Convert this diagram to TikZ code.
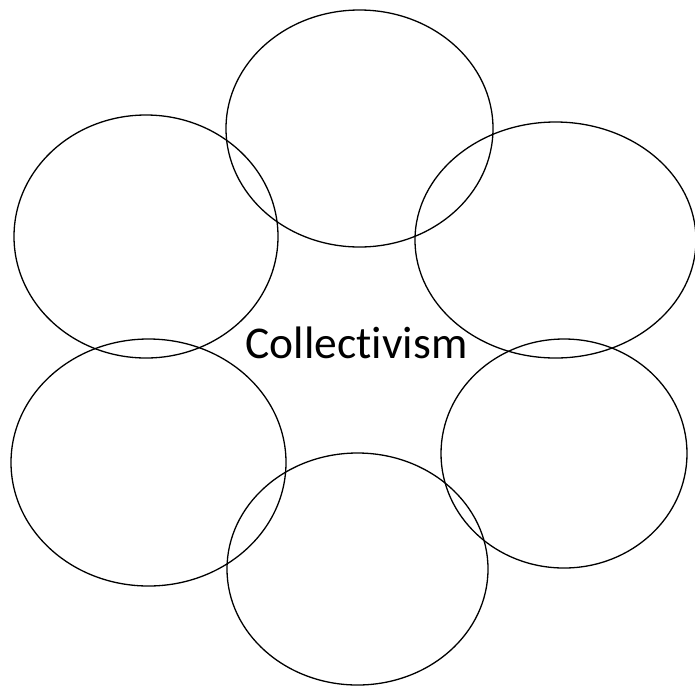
\documentclass[tikz,border=0pt]{standalone}
\usepackage{fontspec}
\newfontfamily\carlito[Ligatures=NoCommon]{Carlito}
\usepackage{tikz}
\usetikzlibrary{shapes.geometric, positioning}

\begin{document}
\begin{tikzpicture}[
			x=1pt, y=-1pt,
			petal/.style={ellipse, draw=black, line width=1.3pt, inner sep=0pt},
			title/.style={font=\carlito\fontsize{45.5}{50}\selectfont, inner sep=0pt}
			]
			\useasboundingbox (0,0) rectangle (695,686);
			
			% Ring of ellipses
			\node[petal, minimum width=267pt, minimum height=237pt] (top) at (359.5,128.5) {};
			\node[petal, minimum width=264pt, minimum height=243pt] (upleft) at (146,236.5) {};
			\node[petal, minimum width=281pt, minimum height=236pt] (upright) at (555.5,240) {};
			\node[petal, minimum width=275pt, minimum height=247pt] (lowleft) at (148.5,462.5) {};
			\node[petal, minimum width=246pt, minimum height=229pt] (lowright) at (564,453.5) {};
			\node[petal, minimum width=261pt, minimum height=232pt] (bottom) at (357.5,569) {};
			
			% Centre label
			\node[title, anchor=base] (centre) at (356.5,358) {Collectivism};
		\end{tikzpicture}
\end{document}
